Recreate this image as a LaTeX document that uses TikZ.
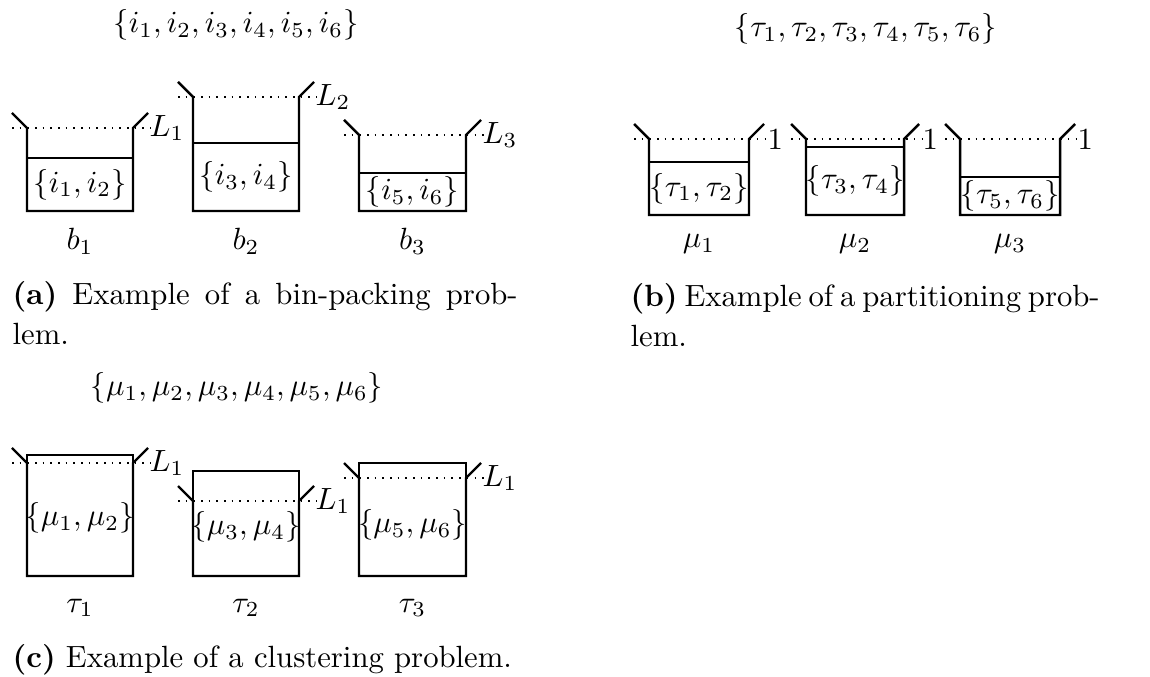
\documentclass[tikz,border=0pt]{standalone}
\usetikzlibrary{calc}
\newcommand{\capfont}{\fontsize{10}{13}\selectfont}
\tikzset{
  binwall/.style={line width=0.8pt, line join=miter},
  fillbox/.style={line width=0.5pt},
  level/.style={dotted, line width=0.5pt},
  lbl/.style={inner sep=0pt},
}
% bin: #1 name, #2 left x, #3 right x, #4 top y, #5 bottom y
\newcommand{\mybin}[5]{%
  \coordinate (#1tl) at (#2,#4);
  \coordinate (#1tr) at (#3,#4);
  \coordinate (#1bl) at (#2,#5);
  \coordinate (#1br) at (#3,#5);
  \coordinate (#1fl) at ($(#1tl)+(-15,-15)$);
  \coordinate (#1fr) at ($(#1tr)+(15,-15)$);
  \coordinate (#1dl) at ($(#1tl)+(-15,0)$);
  \coordinate (#1dr) at ($(#1tr)+(18,0)$);
  \draw[level] (#1dl) -- (#1dr);
  \draw[binwall] (#1fl) -- (#1tl) -- (#1bl) -- (#1br) -- (#1tr) -- (#1fr);
}
\begin{document}
\begin{tikzpicture}[x=0.3257pt,y=-0.3257pt]
\useasboundingbox (0,0) rectangle (1150,677);

% ---------- (a) bin packing ----------
\node[lbl] (seta) at (236,25) {$\{i_1,i_2,i_3,i_4,i_5,i_6\}$};
\mybin{ba}{27}{133}{128}{211}
\draw[fillbox] (27,158) rectangle (133,211);
\node[lbl] (ca) at (80,184.5) {$\{i_1,i_2\}$};
\node[lbl,anchor=west] (La) at (149,128) {$L_1$};
\mybin{bb}{193}{299}{97}{211}
\draw[fillbox] (193,143) rectangle (299,211);
\node[lbl] (cb) at (246,177) {$\{i_3,i_4\}$};
\node[lbl,anchor=west] (Lb) at (315,97) {$L_2$};
\mybin{bc}{359}{466}{135}{211}
\draw[fillbox] (359,173) rectangle (466,211);
\node[lbl] (cc) at (412.5,192) {$\{i_5,i_6\}$};
\node[lbl,anchor=west] (Lc) at (482,135) {$L_3$};
\node[lbl,anchor=base] (na) at (80,250) {$b_1$};
\node[lbl,anchor=base] (nb) at (246,250) {$b_2$};
\node[lbl,anchor=base] (nc) at (412.5,250) {$b_3$};
\node[lbl,anchor=base west] (capa) at (12,305) {\capfont\vtop{\hbox{\makebox[164.5pt][s]{\textbf{(a)} Example of a bin-packing prob-}}\hbox{lem.}}};

% ---------- (b) partitioning ----------
\node[lbl] (setb) at (866,29) {$\{\tau_1,\tau_2,\tau_3,\tau_4,\tau_5,\tau_6\}$};
\mybin{ma}{649}{749}{139}{215}
\draw[fillbox] (649,162) rectangle (749,215);
\node[lbl] (da) at (699,188.5) {$\{\tau_1,\tau_2\}$};
\node[lbl,anchor=west] (oa) at (767,140) {$1$};
\mybin{mb}{806}{904}{139}{215}
\draw[fillbox] (806,147) rectangle (904,215);
\node[lbl] (db) at (855,181) {$\{\tau_3,\tau_4\}$};
\node[lbl,anchor=west] (ob) at (922,140) {$1$};
\mybin{mc}{960}{1060}{139}{215}
\draw[fillbox] (960,177) rectangle (1060,215);
\node[lbl] (dc) at (1010,196) {$\{\tau_5,\tau_6\}$};
\node[lbl,anchor=west] (oc) at (1077,140) {$1$};
\node[lbl,anchor=base] (pa) at (699,248) {$\mu_1$};
\node[lbl,anchor=base] (pb) at (855,248) {$\mu_2$};
\node[lbl,anchor=base] (pc) at (1010,248) {$\mu_3$};
\node[lbl,anchor=base west] (capb) at (630,307) {\capfont\vtop{\hbox{\makebox[149.2pt][s]{\textbf{(b)} Example of a partitioning prob-}}\hbox{lem.}}};

% ---------- (c) clustering ----------
\node[lbl] (setc) at (237,388) {$\{\mu_1,\mu_2,\mu_3,\mu_4,\mu_5,\mu_6\}$};
\mybin{ta}{27}{133}{463}{576}
\draw[fillbox] (27,455) rectangle (133,576);
\node[lbl] (ea) at (80,518) {$\{\mu_1,\mu_2\}$};
\node[lbl,anchor=west] (Ma) at (149,463) {$L_1$};
\mybin{tb}{193}{299}{501}{576}
\draw[fillbox] (193,471) rectangle (299,576);
\node[lbl] (eb) at (246,527) {$\{\mu_3,\mu_4\}$};
\node[lbl,anchor=west] (Mb) at (315,501) {$L_1$};
\mybin{tc}{359}{466}{478}{576}
\draw[fillbox] (359,463) rectangle (466,576);
\node[lbl] (ec) at (412.5,525) {$\{\mu_5,\mu_6\}$};
\node[lbl,anchor=west] (Mc) at (482,478) {$L_1$};
\node[lbl,anchor=base] (qa) at (80,612) {$\tau_1$};
\node[lbl,anchor=base] (qb) at (246,612) {$\tau_2$};
\node[lbl,anchor=base] (qc) at (412.5,612) {$\tau_3$};
\node[lbl,anchor=base west] (capc) at (12,667) {\capfont\textbf{(c)} Example of a clustering problem.};
\end{tikzpicture}
\end{document}
